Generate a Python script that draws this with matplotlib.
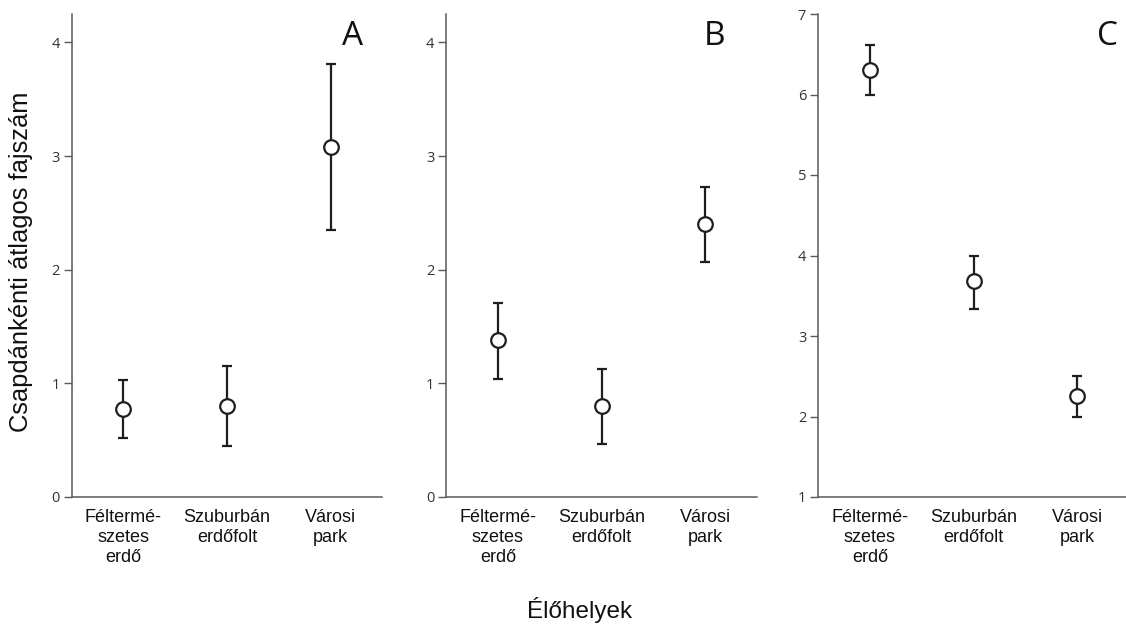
import matplotlib
matplotlib.use("Agg")
import matplotlib.pyplot as plt
import numpy as np

# Habitat categories (x axis)
habitats = ["Féltermé-\nszetes\nerdő", "Szuburbán\nerdőfolt", "Városi\npark"]

# Mean species number per trap with error bar limits, panel A
mean_a = [0.77, 0.80, 3.08]
low_a = [0.52, 0.45, 2.35]
high_a = [1.03, 1.15, 3.81]

# Panel B
mean_b = [1.38, 0.80, 2.40]
low_b = [1.04, 0.47, 2.07]
high_b = [1.71, 1.13, 2.73]

# Panel C
mean_c = [6.30, 3.68, 2.25]
low_c = [5.99, 3.34, 1.99]
high_c = [6.62, 4.00, 2.50]

panel_letters = ["A", "B", "C"]
y_ticks_ab = [0, 1, 2, 3, 4]
y_ticks_c = [1, 2, 3, 4, 5, 6, 7]

W, H = 1126, 625
fig = plt.figure(figsize=(W / 100, H / 100), dpi=100)

bottom = 1 - 497 / H
height = (497 - 14) / H
width = 311 / W
lefts = [71.5 / W, 446 / W, 818 / W]
letter_x = [0.905, 0.862, 0.932]

panels = [
    (mean_a, low_a, high_a, (0, 4.25), y_ticks_ab),
    (mean_b, low_b, high_b, (0, 4.25), y_ticks_ab),
    (mean_c, low_c, high_c, (1, 7), y_ticks_c),
]

spine_col = "#5a5a5a"
mark_col = "#1e1e1e"

for i, (means, lows, highs, ylim, yticks) in enumerate(panels):
    ax = fig.add_axes([lefts[i], bottom, width, height])
    x = np.arange(len(habitats))
    m = np.array(means)
    yerr = np.vstack([m - np.array(lows), np.array(highs) - m])
    ax.errorbar(x, m, yerr=yerr, fmt="o", color=mark_col, ecolor=mark_col,
                elinewidth=1.6, capsize=3.6, capthick=1.6,
                markersize=10.5, markerfacecolor="white",
                markeredgecolor=mark_col, markeredgewidth=1.6, zorder=3)
    ax.set_xlim(-0.5, 2.5)
    ax.set_ylim(*ylim)
    ax.set_yticks(yticks)
    ax.set_yticklabels([str(t) for t in yticks], family="Open Sans",
                       fontsize=10.5, color="#333333")
    ax.set_xticks(x)
    ax.set_xticklabels(habitats, family="Liberation Sans", fontsize=13,
                       color="#111111", linespacing=1.2, va="top")
    ax.tick_params(axis="x", length=0, pad=9)
    ax.tick_params(axis="y", length=5.5, width=1.0, color=spine_col,
                   direction="out", pad=3)
    for s in ("top", "right"):
        ax.spines[s].set_visible(False)
    for s in ("left", "bottom"):
        ax.spines[s].set_color(spine_col)
        ax.spines[s].set_linewidth(1.1)
    ax.patch.set_alpha(0)
    ax.text(letter_x[i], 0.953, panel_letters[i], transform=ax.transAxes,
            family="Open Sans", fontsize=24, color="#111111",
            ha="center", va="center")

fig.text(21 / W, 1 - 262 / H, "Csapdánkénti átlagos fajszám",
         family="Liberation Sans", fontsize=18.4, rotation=90,
         ha="center", va="center", color="#111111")
fig.text(580 / W, 1 - 610 / H, "Élőhelyek", family="Liberation Sans",
         fontsize=17.5, ha="center", va="center", color="#111111")

fig.savefig("out.png", dpi=100, facecolor="white")
